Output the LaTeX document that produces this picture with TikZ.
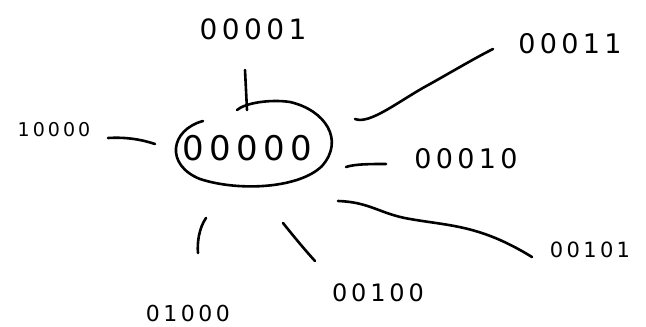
\documentclass[tikz,border=0pt]{standalone}
\usepackage{fontspec}
\usepackage{tikz}
\usetikzlibrary{positioning}
\newfontfamily\handfont{DejaVu Sans}[LetterSpace=16]

\begin{document}
\begin{tikzpicture}[
    x=1pt, y=-1pt,
    code/.style={inner sep=0pt, font=\handfont\fontsize{#1}{#1}\selectfont},
    stroke/.style={line width=2.6pt, line cap=round, line join=round},
  ]
    \useasboundingbox (0,0) rectangle (646,327);
    \node[code=34] (hub)   at (247,148) {00000};
    \node[code=28] (top)   at (253,29)  {00001};
    \node[code=27] (nA)    at (570,44)  {00011};
    \node[code=19] (left)  at (54,130)  {10000};
    \node[code=27] (nB)    at (466,159) {00010};
    \node[code=21] (nC)    at (590,250) {00101};
    \node[code=24] (bot)   at (378,293) {00100};
    \node[code=22] (botL)  at (188,313) {01000};
    \coordinate (t1) at (245,70);   \coordinate (t2) at (247,110);
    \coordinate (a1) at (355,119);  \coordinate (a2) at (493,49);
    \coordinate (l1) at (108,138);  \coordinate (l2) at (155,144);
    \coordinate (b1) at (346,167);  \coordinate (b2) at (386,164);
    \coordinate (c1) at (338,201);  \coordinate (c2) at (532,257);
    \coordinate (d1) at (283,223);  \coordinate (d2) at (315,261);
    \coordinate (e1) at (206,218);  \coordinate (e2) at (198,253);
    \draw[stroke] (203,121) .. controls (170,130) and (165,165) .. (200,179)
      .. controls (240,192) and (300,188) .. (322,166)
      .. controls (345,140) and (325,110) .. (290,102)
      .. controls (270,99) and (245,103) .. (237,110);
    \draw[stroke] (t1) -- (t2);
    \draw[stroke] (a1) .. controls (370,125) and (400,100) .. (430,84)
      .. controls (455,70) and (475,58) .. (a2);
    \draw[stroke] (l1) .. controls (125,137) and (140,139) .. (l2);
    \draw[stroke] (b1) .. controls (355,164) and (370,164) .. (b2);
    \draw[stroke] (c1) .. controls (370,202) and (380,214) .. (410,219)
      .. controls (450,226) and (480,225) .. (c2);
    \draw[stroke] (d1) .. controls (295,238) and (305,250) .. (d2);
    \draw[stroke] (e1) .. controls (199,228) and (197,243) .. (e2);
  \end{tikzpicture}
\end{document}
